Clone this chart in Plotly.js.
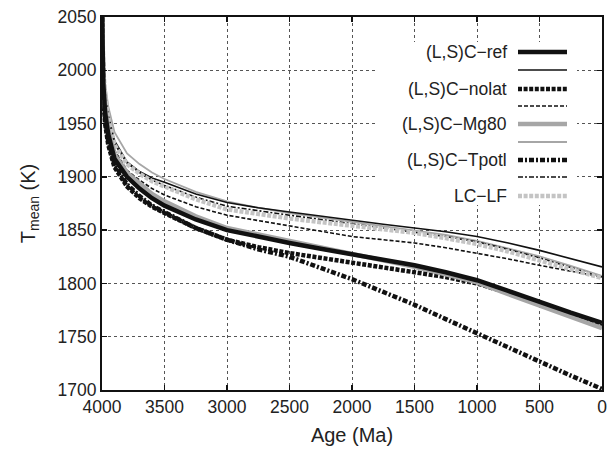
<!DOCTYPE html>
<html>
<head>
<meta charset="utf-8">
<script src="https://cdn.plot.ly/plotly-3.0.1.min.js"></script>
<style>html,body{margin:0;padding:0;background:#fff;}#chart{width:609px;height:454px;}</style>
</head>
<body>
<div id="chart"></div>
<script>
// Age (Ma) sample points
const ages = [4000, 3990, 3975, 3950, 3900, 3800, 3700, 3600, 3500, 3250, 3000, 2750, 2500, 2250, 2000, 1750, 1500, 1250, 1000, 750, 500, 250, 0];

// Mean temperature (K) for each model run
const refThick   = [2060, 1988, 1960, 1940, 1917, 1900, 1889, 1880, 1873, 1860, 1850, 1843.5, 1838, 1832.5, 1827.5, 1822.5, 1817, 1810.5, 1803, 1793, 1782.5, 1772.5, 1763];
const refThin    = [2060, 2002, 1978, 1958, 1934, 1914, 1905, 1899, 1895, 1884, 1876, 1871, 1867, 1863, 1859, 1855.5, 1852, 1848.5, 1844, 1838, 1831, 1823.5, 1815.5];
const nolatThick = [2060, 1978, 1950, 1930, 1909, 1891, 1880, 1872, 1866, 1852, 1841, 1834, 1828.5, 1824, 1820, 1815.5, 1811, 1806, 1800, 1791, 1780.5, 1770, 1760];
const nolatThin  = [2060, 1992, 1968, 1948, 1925, 1906, 1897, 1889, 1883, 1872, 1864, 1859, 1854.5, 1849, 1844, 1841, 1838, 1833.5, 1828.5, 1823, 1817, 1811.5, 1806];
const mg80Thick  = [2060, 1992, 1964, 1944, 1921, 1904, 1894, 1884, 1877, 1863, 1852, 1846, 1840.5, 1834, 1828, 1822, 1815.5, 1808.5, 1801, 1790, 1779, 1768.5, 1758];
const mg80Thin   = [2060, 2012, 1988, 1966, 1942, 1922, 1912, 1904, 1898, 1886, 1877, 1871, 1866, 1862, 1858, 1854, 1850, 1845.5, 1840, 1833, 1825.5, 1816.5, 1807];
const tpotlThick = [2060, 1982, 1954, 1934, 1912, 1893, 1882, 1873, 1867, 1852, 1841, 1832, 1825, 1815, 1804, 1792, 1780, 1766.5, 1753, 1739.5, 1726, 1713.5, 1701];
const tpotlThin  = [2060, 2002, 1976, 1955, 1931, 1913, 1904, 1897, 1892, 1881, 1872.5, 1868, 1864, 1860, 1856, 1852.5, 1848.5, 1844, 1839, 1832, 1824, 1815, 1806];
const lclf       = [2060, 2002, 1976, 1954, 1930, 1912, 1903, 1896, 1891, 1879, 1869.5, 1865, 1861, 1857.5, 1854, 1851, 1847.5, 1842.5, 1837, 1830, 1822, 1813.5, 1805];

// Legend labels (blank = unlabeled companion line)
const legendLabels = ['(L,S)C\u2212ref', '', '(L,S)C\u2212nolat', '', '(L,S)C\u2212Mg80', '', '(L,S)C\u2212Tpotl', '', 'LC\u2212LF'];

const xTicks = [4000, 3500, 3000, 2500, 2000, 1500, 1000, 500, 0];
const yTicks = [1700, 1750, 1800, 1850, 1900, 1950, 2000, 2050];

const FONT = 'Liberation Sans, Arial, Helvetica, sans-serif';
const BLACK = '#111111', GRAY = '#a6a6a6', LGRAY = '#c4c4c4';
const styles = [
  {c: BLACK, w: 4.5, d: 'solid'},
  {c: BLACK, w: 1.6, d: 'solid'},
  {c: BLACK, w: 4.5, d: '4px,1.6px'},
  {c: BLACK, w: 1.6, d: '4px,2px'},
  {c: GRAY,  w: 4.5, d: 'solid'},
  {c: GRAY,  w: 1.8, d: 'solid'},
  {c: BLACK, w: 4.5, d: '5px,2px,2px,2px'},
  {c: BLACK, w: 1.6, d: '5px,2px,2px,2px'},
  {c: LGRAY, w: 4.5, d: '4px,1.6px'}
];
const series = [refThick, refThin, nolatThick, nolatThin, mg80Thick, mg80Thin, tpotlThick, tpotlThin, lclf];
// draw order: thick lower group last so it sits on top like the original
const order = [5, 1, 3, 7, 8, 2, 6, 4, 0];

const traces = order.map(i => ({
  x: ages, y: series[i], type: 'scatter', mode: 'lines',
  line: {color: styles[i].c, width: styles[i].w, dash: styles[i].d, shape: 'linear'},
  showlegend: false, hoverinfo: 'skip'
}));

// plot area in px: x 102..602, y 17..390
const L = 102, R = 602, T = 17, B = 390;
const px2x = p => (p - L) / (R - L);
const px2y = p => (B - p) / (B - T);

const shapes = [{
  type: 'rect', xref: 'paper', yref: 'paper', layer: 'above',
  x0: px2x(376), x1: px2x(577), y0: px2y(205), y1: px2y(42),
  fillcolor: '#ffffff', line: {width: 0}
}];
const annotations = [];
const rowY = [52, 70, 89, 106, 124, 142, 160, 177, 196];
legendLabels.forEach((lab, i) => {
  const s = styles[i];
  shapes.push({
    type: 'line', xref: 'paper', yref: 'paper', layer: 'above',
    x0: px2x(518), x1: px2x(567), y0: px2y(rowY[i]), y1: px2y(rowY[i]),
    line: {color: s.c, width: s.w, dash: s.d}
  });
  if (lab) annotations.push({
    xref: 'paper', yref: 'paper', x: px2x(509), y: px2y(rowY[i]),
    xanchor: 'right', yanchor: 'middle', showarrow: false, text: lab,
    font: {family: FONT, size: 17.5, color: '#222'}
  });
});

const axisCommon = {
  showline: true, mirror: 'ticks', linecolor: '#111', linewidth: 2,
  ticks: 'inside', ticklen: 5, tickwidth: 1.5, tickcolor: '#111',
  showgrid: true, gridcolor: '#555', gridwidth: 1, griddash: 'dot',
  zeroline: false,
  tickfont: {family: FONT, size: 17.5, color: '#222'}
};

const layout = {
  width: 609, height: 454,
  margin: {l: L, r: 609 - R, t: T, b: 454 - B},
  paper_bgcolor: '#fff', plot_bgcolor: '#fff',
  showlegend: false,
  xaxis: Object.assign({}, axisCommon, {
    range: [4000, 0], tickvals: xTicks, ticktext: xTicks.map(String),
    title: {text: 'Age (Ma)', standoff: 12, font: {family: FONT, size: 20, color: '#222'}}
  }),
  yaxis: Object.assign({}, axisCommon, {
    range: [1700, 2050], tickvals: yTicks, ticktext: yTicks.map(String),
    title: {text: 'T<sub>mean</sub> (K)', standoff: 17, font: {family: FONT, size: 20, color: '#222'}}
  }),
  shapes: shapes, annotations: annotations
};

Plotly.newPlot('chart', traces, layout, {displayModeBar: false, staticPlot: true});
</script>
</body>
</html>
